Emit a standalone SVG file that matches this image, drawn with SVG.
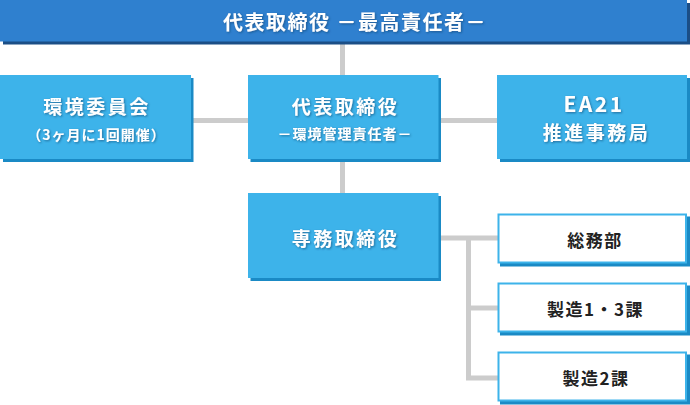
<svg xmlns="http://www.w3.org/2000/svg" width="690" height="405" viewBox="0 0 690 405">
<defs>
<filter id="ts" x="-10%" y="-30%" width="120%" height="160%">
<feDropShadow dx="1" dy="1" stdDeviation="0.8" flood-color="#0a3a66" flood-opacity="0.6"/>
</filter>
</defs>
<style>
.conn{stroke:#cccccc;stroke-width:5;fill:none}
.top{fill:#2f80cf}
.topsh{fill:#1b4e86}
.box{fill:#3db3ea}
.boxsh{fill:#1a8ac5}
.wbox{fill:#ffffff;stroke:#3db3ea;stroke-width:2}
.wt{font-family:"Noto Sans CJK JP","Noto Sans",sans-serif;font-weight:bold;fill:#ffffff;text-anchor:middle}
.dt{font-family:"Noto Sans CJK JP","Noto Sans",sans-serif;font-weight:bold;fill:#222222;text-anchor:middle;font-size:17px;letter-spacing:1.5px}
</style>
<g id="connectors">
<line class="conn" x1="342.5" y1="42" x2="342.5" y2="193"/>
<line class="conn" x1="191" y1="120.5" x2="248" y2="120.5"/>
<line class="conn" x1="440" y1="120.5" x2="497" y2="120.5"/>
<line class="conn" x1="440" y1="238" x2="498" y2="238"/>
<polyline class="conn" points="468.5,238 468.5,378 498,378"/>
<line class="conn" x1="468.5" y1="308" x2="498" y2="308"/>
</g>
<g id="top">
<rect class="topsh" x="3" y="3" width="687" height="41.5"/>
<rect class="top" x="0" y="0" width="687" height="41.5"/>
<text class="wt" x="355" y="30" font-size="20" letter-spacing="1.5" filter="url(#ts)">代表取締役 －最高責任者－</text>
</g>
<g id="iinkai">
<rect class="boxsh" x="3" y="78" width="190.5" height="84"/>
<rect class="box" x="0" y="75" width="191" height="84"/>
<text class="wt" x="97" y="114" font-size="19" letter-spacing="2.5" filter="url(#ts)">環境委員会</text>
<text class="wt" x="96.5" y="139.5" font-size="14" letter-spacing="1" filter="url(#ts)">（3ヶ月に1回開催）</text>
</g>
<g id="daihyo">
<rect class="boxsh" x="250.5" y="78" width="190.5" height="84"/>
<rect class="box" x="248" y="75" width="190.5" height="84"/>
<text class="wt" x="345.5" y="113.5" font-size="19" letter-spacing="2.5" filter="url(#ts)">代表取締役</text>
<text class="wt" x="345" y="139" font-size="14" letter-spacing="1" filter="url(#ts)">－環境管理責任者－</text>
</g>
<g id="ea21">
<rect class="boxsh" x="500" y="78" width="190" height="84"/>
<rect class="box" x="497" y="75" width="190" height="84"/>
<text class="wt" x="594" y="112" font-size="21" letter-spacing="2.5" filter="url(#ts)">EA21</text>
<text class="wt" x="596.5" y="140" font-size="19" letter-spacing="2.5" filter="url(#ts)">推進事務局</text>
</g>
<g id="senmu">
<rect class="boxsh" x="250.5" y="196" width="190.5" height="85"/>
<rect class="box" x="248" y="193" width="190.5" height="85"/>
<text class="wt" x="345.5" y="245.5" font-size="19" letter-spacing="2.5" filter="url(#ts)">専務取締役</text>
</g>
<g id="somu">
<rect class="boxsh" x="500" y="216.5" width="190" height="50"/>
<rect class="wbox" x="498.5" y="214.5" width="187.5" height="48"/>
<text class="dt" x="595" y="246.5">総務部</text>
</g>
<g id="seizo13">
<rect class="boxsh" x="500" y="285.5" width="190" height="50"/>
<rect class="wbox" x="498.5" y="283.5" width="187.5" height="48"/>
<text class="dt" x="595.5" y="315.5">製造1・3課</text>
</g>
<g id="seizo2">
<rect class="boxsh" x="500" y="354.5" width="190" height="50"/>
<rect class="wbox" x="498.5" y="352.5" width="187.5" height="48"/>
<text class="dt" x="596" y="384.5" letter-spacing="2.5">製造2課</text>
</g>
</svg>
